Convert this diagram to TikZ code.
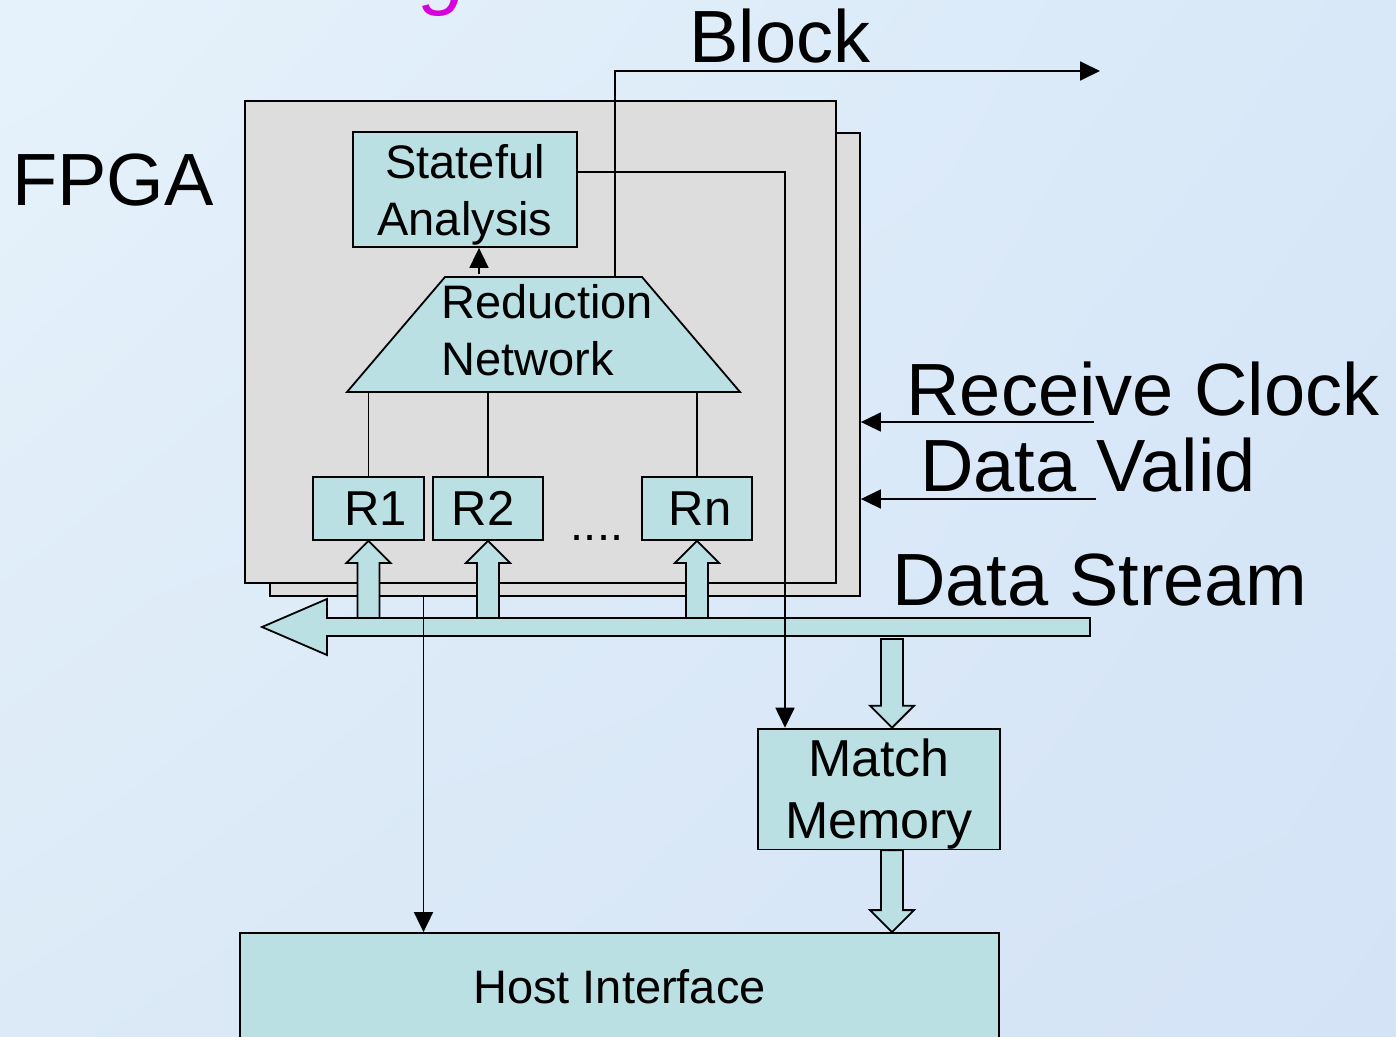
\documentclass[tikz,border=0pt]{standalone}
\usepackage{fontspec}
\setmainfont{Liberation Sans}
\usetikzlibrary{arrows.meta,calc,shadings}

\definecolor{boxfill}{RGB}{186,224,227}
\definecolor{chipgray}{RGB}{221,221,221}
\definecolor{titlemag}{RGB}{214,0,220}
\definecolor{bgtl}{RGB}{230,242,251}
\definecolor{bgtr}{RGB}{216,232,248}
\definecolor{bgbl}{RGB}{220,234,247}
\definecolor{bgbr}{RGB}{212,227,246}

% Wide hollow arrow running vertically from #1 to its tip at #2
\newcommand\blockshaft[2]{%
  \path[fat] let \p1=(#1), \p2=(#2), \n1={ifthenelse(\y2>\y1,1,-1)} in
    (\x1-11pt,\y1) -- (\x1-11pt,\y2-\n1*22pt) -- (\x1-22pt,\y2-\n1*22pt)
    -- (\x1,\y2) -- (\x1+22pt,\y2-\n1*22pt) -- (\x1+11pt,\y2-\n1*22pt)
    -- (\x1+11pt,\y1) -- cycle;}

\begin{document}
\begin{tikzpicture}[x=1pt,y=-1pt,
  every node/.style={inner sep=0pt},
  edge/.style={line width=1.8pt},
  sig/.style={edge,-{Triangle[length=20pt,width=19pt]}},
  chip/.style={draw,fill=chipgray,line width=1.8pt},
  unit/.style={draw,fill=boxfill,line width=1.8pt},
  fat/.style={draw,fill=boxfill,line width=1.8pt,line join=miter},
  biglabel/.style={anchor=base,font=\fontsize{74}{80}\selectfont},
  unitlabel/.style={font=\fontsize{47}{57}\selectfont,align=center},
]
\useasboundingbox (0,0) rectangle (1396,1036);
\clip (0,0) rectangle (1396,1036);

% slide background
\shade[upper left=bgtl,upper right=bgtr,lower left=bgbl,lower right=bgbr]
  (0,0) rectangle (1396,1036);

% tail of the heading letter cut by the top edge
\node[anchor=base,text=titlemag,font=\fontsize{82}{82}\selectfont\itshape] (headg) at (445,0) {g};

% FPGA boards
\node[chip,minimum width=590pt,minimum height=463pt] (back) at (565,364.5) {};
\node[chip,minimum width=591pt,minimum height=482pt] (front) at (540.5,342) {};

% functional units
\node[unit,unitlabel,minimum width=224pt,minimum height=115pt] (sa) at (465,189.5) {\rule{0pt}{45pt}Stateful\\Analysis};

% reduction network (trapezoid)
\coordinate (rntop) at (543.5,277);
\coordinate (rnbot) at (543.5,392);
\path[unit,line join=miter] (445,277) -- (642,277) -- (740,392) -- (347,392) -- cycle;
\node[anchor=base west,align=left,font=\fontsize{47}{57}\selectfont] (rntext) at (441,375) {Reduction\\Network};

\node[unit,font=\fontsize{49}{57}\selectfont,minimum width=111pt,minimum height=63pt] (r1) at (368.5,508.5) {\hspace*{14pt}R1};
\node[unit,font=\fontsize{49}{57}\selectfont,minimum width=110pt,minimum height=63pt] (r2) at (488,508.5) {R2\hspace*{10pt}};
\node[unit,font=\fontsize{49}{57}\selectfont,minimum width=110pt,minimum height=63pt] (rn1) at (697,508.5) {\hspace*{6pt}\raisebox{-4pt}{Rn}};
\node[anchor=base,font=\fontsize{47}{57}\selectfont] (dots) at (597,540) {....};

% reducer outputs into the network
\draw[edge] (r1.north) -- (r1.north |- rnbot);
\draw[edge] (r2.north) -- (r2.north |- rnbot);
\draw[edge] (rn1.north) -- (rn1.north |- rnbot);

% network to stateful analysis
\coordinate (rnup) at ([xshift=-64.5pt,yshift=3pt]rntop);
\draw[sig] (rnup) -- (rnup |- sa.south);

% block output
\coordinate (rnblk) at ([xshift=71.5pt]rntop);
\coordinate (blockout) at (1100,71);
\draw[sig] (rnblk) |- (blockout);

% stateful analysis to match memory
\node[unit,font=\fontsize{52}{62}\selectfont,align=center,minimum width=242pt,minimum height=120pt] (mm) at (879,789) {\rule{0pt}{48pt}Match\\Memory};
\coordinate (mmin) at ([xshift=-94pt]mm.north);
\draw[sig] ([yshift=17.5pt]sa.east) -| (mmin);

% host interface
\node[unit,font=\fontsize{47}{57}\selectfont,minimum width=759pt,minimum height=117pt] (hi) at (619.5,991.5) {Host Interface\rule[-10pt]{0pt}{10pt}};

% data stream bus
\coordinate (dstop) at (1090,618);
\coordinate (dsbot) at (1090,636);
\blockshaft{r1.south |- dstop}{r1.south}
\blockshaft{r2.south |- dstop}{r2.south}
\blockshaft{rn1.south |- dstop}{rn1.south}
\path[fat] (dstop) -- (327,618) -- (327,599) -- (262,627) -- (327,655) -- (327,636) -- (dsbot) -- cycle;

% board to host interface
\coordinate (hin) at ([xshift=-196pt]hi.north);
\draw[sig] (hin |- back.south) -- (hin);
% redraw the match-memory feed over the bus
\draw[edge] (mmin |- dstop) -- (mmin |- dsbot);

% bus and memory transfers
\coordinate (mmdrop) at ([xshift=13pt]mm.north);
\blockshaft{$(mmdrop |- dsbot)+(0,3)$}{mmdrop}
\blockshaft{mmdrop |- mm.south}{mmdrop |- hi.north}

% control inputs
\coordinate (rcin) at (1094,422);
\coordinate (dvin) at (1096,499);
\draw[sig] (rcin) -- (rcin -| back.east);
\draw[sig] (dvin) -- (dvin -| back.east);

% labels
\node[biglabel] (blocklbl) at (780,62) {Block};
\node[biglabel] (fpgalbl) at (113,205) {FPGA};
\node[biglabel] (rclbl) at (1143,415) {Receive Clock};
\node[biglabel] (dvlbl) at (1088,491) {Data Valid};
\node[biglabel] (dslbl) at (1100,605) {Data Stream};
\end{tikzpicture}
\end{document}
